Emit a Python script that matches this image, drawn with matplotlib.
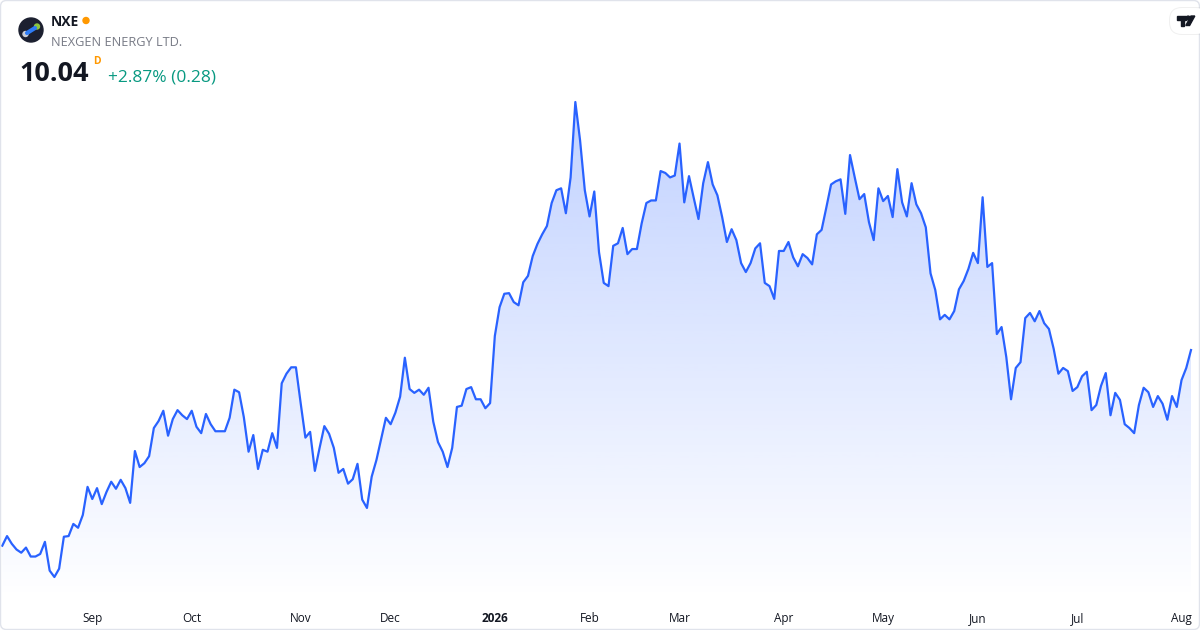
import matplotlib

matplotlib.use("Agg")
import matplotlib.pyplot as plt
import numpy as np
from matplotlib.colors import to_rgb
from matplotlib.patches import Circle, FancyBboxPatch, Polygon

plt.rcParams["font.family"] = ["Open Sans", "Roboto", "DejaVu Sans"]

# daily closes, NXE, Aug 2025 - Aug 2026
prices = [
    6.98, 7.13, 7.01, 6.92, 6.87, 6.95, 6.81, 6.81, 6.85, 7.04,
    6.59, 6.49, 6.62, 7.12, 7.13, 7.32, 7.26, 7.46, 7.90, 7.71,
    7.88, 7.63, 7.82, 7.98, 7.87, 8.01, 7.88, 7.65, 8.46, 8.21,
    8.27, 8.38, 8.82, 8.93, 9.09, 8.70, 8.96, 9.10, 9.02, 8.96,
    9.09, 8.84, 8.74, 9.04, 8.88, 8.77, 8.77, 8.77, 8.98, 9.42,
    9.38, 8.99, 8.45, 8.71, 8.18, 8.48, 8.45, 8.74, 8.51, 9.52,
    9.67, 9.77, 9.77, 9.21, 8.67, 8.76, 8.15, 8.51, 8.85, 8.73,
    8.51, 8.12, 8.18, 7.95, 8.02, 8.26, 7.70, 7.57, 8.06, 8.32,
    8.65, 8.98, 8.88, 9.06, 9.31, 9.92, 9.43, 9.37, 9.42, 9.34,
    9.45, 8.92, 8.60, 8.45, 8.21, 8.51, 9.15, 9.17, 9.43, 9.46,
    9.27, 9.27, 9.13, 9.21, 10.26, 10.71, 10.92, 10.93, 10.79, 10.74,
    11.10, 11.20, 11.51, 11.70, 11.85, 11.98, 12.34, 12.54, 12.57, 12.18,
    12.74, 13.92, 13.32, 12.54, 12.13, 12.52, 11.57, 11.09, 11.04, 11.67,
    11.71, 11.95, 11.54, 11.62, 11.62, 12.02, 12.34, 12.38, 12.38, 12.84,
    12.81, 12.74, 12.77, 13.27, 12.35, 12.76, 12.42, 12.09, 12.65, 12.98,
    12.63, 12.46, 12.12, 11.73, 11.93, 11.76, 11.40, 11.26, 11.40, 11.63,
    11.71, 11.09, 11.04, 10.84, 11.59, 11.59, 11.73, 11.49, 11.35, 11.54,
    11.48, 11.38, 11.85, 11.92, 12.27, 12.63, 12.68, 12.71, 12.17, 13.09,
    12.74, 12.40, 12.48, 12.04, 11.76, 12.57, 12.37, 12.45, 12.12, 12.87,
    12.35, 12.13, 12.65, 12.32, 12.18, 11.96, 11.24, 10.98, 10.52, 10.59,
    10.52, 10.65, 10.99, 11.12, 11.31, 11.56, 11.40, 12.43, 11.34, 11.40,
    10.29, 10.40, 9.93, 9.27, 9.76, 9.85, 10.54, 10.62, 10.49, 10.65,
    10.46, 10.37, 10.06, 9.67, 9.76, 9.71, 9.40, 9.46, 9.63, 9.70,
    9.10, 9.18, 9.48, 9.68, 9.02, 9.37, 9.26, 8.88, 8.82, 8.74,
    9.18, 9.45, 9.38, 9.15, 9.32, 9.20, 8.95, 9.32, 9.15, 9.57,
    9.76, 10.04,
]

# first trading day of each month, as an index into prices
month_idx = [19, 40, 63, 82, 104, 124, 143, 165, 186, 206, 227, 249]
month_labels = ["Sep", "Oct", "Nov", "Dec", "2026", "Feb", "Mar", "Apr",
                "May", "Jun", "Jul", "Aug"]

ticker = "NXE"
company = "NEXGEN ENERGY LTD."
last_price = "10.04"
change_text = "+2.87% (0.28)"

LINE = "#2962FF"
TEXT = "#131722"

W, H = 1200, 630
fig = plt.figure(figsize=(W / 100, H / 100), dpi=100)
fig.patch.set_facecolor("white")

# plot pane: full width, top of card down to y=600 px
pane_bottom = 600
ax = fig.add_axes([0, (H - pane_bottom) / H, 1, pane_bottom / H])
ax.set_facecolor("none")

x = np.arange(len(prices))
y = np.array(prices)

# horizontal layout: first point at 2.3 px, last at 1191 px
first_px, last_px = 2.3, 1191.0
step = (last_px - first_px) / (len(prices) - 1)

# vertical layout: highest close at 102 px, lowest at 577 px
top_px, low_px = 102.0, 577.0
per_px = (y.max() - y.min()) / (low_px - top_px)
y_top = y.max() + top_px * per_px
y_bot = y.min() - (pane_bottom - low_px) * per_px

# gradient area under the line
area = ax.fill_between(x, y, y_bot, facecolor="none", edgecolor="none")
grad = np.zeros((256, 1, 4))
grad[:, 0, :3] = to_rgb(LINE)
grad[:, 0, 3] = np.linspace(0.0, 0.29, 256)
img = ax.imshow(grad, origin="lower", aspect="auto",
                extent=[x[0], x[-1], y_bot, y.max()], zorder=1)
img.set_clip_path(area.get_paths()[0], transform=ax.transData)

ax.plot(x, y, color=LINE, lw=1.6, solid_joinstyle="round", zorder=3)

ax.set_xlim(-first_px / step, (W - first_px) / step)
ax.set_ylim(y_bot, y_top)

for s in ax.spines.values():
    s.set_visible(False)
ax.set_yticks([])
ax.set_xticks(month_idx, month_labels)
ax.tick_params(axis="x", length=0, pad=8.7, labelsize=8.5, labelcolor=TEXT)
for lab in ax.get_xticklabels():
    if lab.get_text() == "2026":
        lab.set_fontweight("bold")

# overlay in pixel coordinates for the header and card frame
ov = fig.add_axes([0, 0, 1, 1], zorder=5)
ov.set_xlim(0, W)
ov.set_ylim(H, 0)
ov.axis("off")
ov.patch.set_visible(False)

ov.add_patch(FancyBboxPatch((0.5, 0.5), W - 1, H - 1,
                            boxstyle="round,pad=0,rounding_size=6",
                            fc="none", ec="#e0e3eb", lw=1.0))

# company logo
ov.add_patch(Circle((31, 30), 12, color="#1c2030"))
ov.plot([27, 35], [33, 28], color="#2e7cf6", lw=3.0, solid_capstyle="round")
ov.add_patch(Circle((37, 26.5), 2.5, color="#8cc63f"))
ov.add_patch(Circle((25.5, 34), 2.5, color="#c9ccd6"))

ov.text(51, 26, ticker, fontsize=10, fontweight="bold", color=TEXT,
        va="baseline")
ov.add_patch(Circle((86, 20.5), 3.0, color="#ff9800"))
ov.text(51, 46, company, fontsize=9.2, color="#787b86", va="baseline")

ov.text(19.5, 81, last_price, fontsize=19.5, fontweight="bold", color=TEXT,
        va="baseline")
ov.text(93.5, 64.5, "D", fontsize=7.5, fontweight="bold", color="#ff9800",
        va="baseline")
ov.text(108, 81, change_text, fontsize=12.5, color="#089981", va="baseline")

# TradingView tab
ov.add_patch(FancyBboxPatch((1169, 7), 40, 28,
                            boxstyle="round,pad=0,rounding_size=13",
                            fc="#000000", ec="none", alpha=0.06))
ov.add_patch(FancyBboxPatch((1170, 8), 38, 26,
                            boxstyle="round,pad=0,rounding_size=12",
                            fc="white", ec="none"))
ov.add_patch(Polygon([(1177, 16), (1186, 16), (1186, 19.5), (1184, 19.5),
                      (1184, 25.5), (1180.5, 25.5), (1180.5, 19.5),
                      (1177, 19.5)], closed=True, color=TEXT))
ov.add_patch(Circle((1188.2, 18), 1.9, color=TEXT))
ov.add_patch(Polygon([(1191, 16), (1194.8, 16), (1189.6, 25.5),
                      (1185.8, 25.5)], closed=True, color=TEXT))

fig.savefig("out.png", dpi=100, facecolor="white")
plt.close(fig)
